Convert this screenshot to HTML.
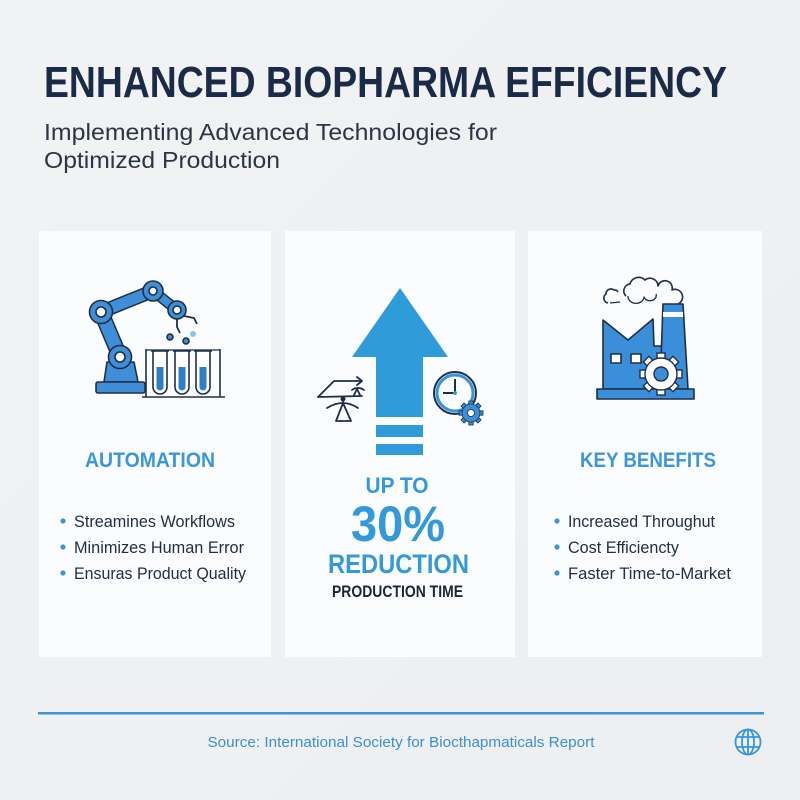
<!DOCTYPE html>
<html><head><meta charset="utf-8">
<style>
html,body{margin:0;padding:0;width:800px;height:800px;overflow:hidden;background:#eff0f2;}
svg{display:block;}
text{font-family:"Liberation Sans",sans-serif;}
</style></head>
<body>
<svg width="800" height="800" viewBox="0 0 800 800" xmlns="http://www.w3.org/2000/svg">
<defs>
<linearGradient id="bg" x1="0" y1="0" x2="1" y2="1">
<stop offset="0" stop-color="#f1f2f4"/><stop offset="1" stop-color="#eceef0"/>
</linearGradient>
<g id="gearT">
<rect x="-2.2" y="-12" width="4.4" height="24" />
</g>
</defs>
<rect width="800" height="800" fill="url(#bg)"/>

<!-- Title -->
<text x="44" y="97" font-size="44" font-weight="bold" fill="#1b2a45" textLength="683" lengthAdjust="spacingAndGlyphs">ENHANCED BIOPHARMA EFFICIENCY</text>
<text x="44" y="140" font-size="23" fill="#2b3547" textLength="453" lengthAdjust="spacingAndGlyphs">Implementing Advanced Technologies for</text>
<text x="44" y="168" font-size="23" fill="#2b3547" textLength="236" lengthAdjust="spacingAndGlyphs">Optimized Production</text>

<!-- Cards -->
<rect x="39" y="231" width="232" height="426" fill="#fbfcfd"/>
<rect x="285" y="231" width="230" height="426" fill="#fbfcfd"/>
<rect x="528" y="231" width="234" height="426" fill="#fbfcfd"/>

<!-- Card 1: robot arm -->
<g stroke="#1e2e48" stroke-width="1.6" stroke-linejoin="round">
  <!-- arm segments -->
  <line x1="101" y1="312" x2="120" y2="357" stroke="#1e2e48" stroke-width="16"/>
  <line x1="101" y1="312" x2="120" y2="357" stroke="#3f8fd8" stroke-width="13"/>
  <line x1="101" y1="312" x2="153" y2="291" stroke="#1e2e48" stroke-width="14"/>
  <line x1="101" y1="312" x2="153" y2="291" stroke="#3f8fd8" stroke-width="11"/>
  <line x1="153" y1="291" x2="177" y2="310" stroke="#1e2e48" stroke-width="11"/>
  <line x1="153" y1="291" x2="177" y2="310" stroke="#3f8fd8" stroke-width="8"/>
  <!-- pedestal -->
  <path d="M104 382 L107 362 L134 362 L138 382 Z" fill="#3f8fd8"/>
  <rect x="96" y="382" width="49" height="11" rx="2" fill="#3f8fd8"/>
  <!-- joints -->
  <circle cx="120" cy="357" r="11.5" fill="#3f8fd8"/>
  <circle cx="120" cy="357" r="5" fill="#fff"/>
  <circle cx="101" cy="312" r="11.5" fill="#3f8fd8"/>
  <circle cx="101" cy="312" r="5" fill="#fff"/>
  <circle cx="153" cy="291" r="10" fill="#3f8fd8"/>
  <circle cx="153" cy="291" r="4" fill="#fff"/>
  <circle cx="177" cy="310" r="9" fill="#3f8fd8"/>
  <circle cx="177" cy="310" r="4" fill="#fff"/>
  <!-- gripper -->
  <path d="M184 316 L194 318 L197 324" fill="none" stroke-width="1.8"/>
  <path d="M177 319 L177 327 L180 333" fill="none" stroke-width="1.8"/>
  <!-- drops -->
  <circle cx="170" cy="337" r="3" fill="#3f8fd8"/>
  <circle cx="186" cy="341" r="3" fill="#3f8fd8"/>
  <circle cx="193" cy="334" r="3" fill="#8cc6ee" stroke="none"/>
  <!-- rack -->
  <line x1="146" y1="349" x2="146" y2="397" fill="none"/>
  <line x1="220" y1="349" x2="220" y2="397" fill="none"/>
  <line x1="142" y1="397" x2="225" y2="397" fill="none"/>
  <line x1="146" y1="350" x2="220" y2="350" fill="none" stroke-width="1.2"/>
  <!-- tubes -->
  <path d="M153 351 L153 387 A7 7 0 0 0 167 387 L167 351" fill="#fff"/>
  <path d="M175 351 L175 387 A7 7 0 0 0 189 387 L189 351" fill="#fff"/>
  <path d="M196 351 L196 387 A7 7 0 0 0 210 387 L210 351" fill="#fff"/>
  <path d="M156.5 367 L156.5 387 A3.5 3.5 0 0 0 163.5 387 L163.5 367 Z" fill="#2f7fc8" stroke="none"/>
  <path d="M178.5 367 L178.5 387 A3.5 3.5 0 0 0 185.5 387 L185.5 367 Z" fill="#2f7fc8" stroke="none"/>
  <path d="M199.5 367 L199.5 387 A3.5 3.5 0 0 0 206.5 387 L206.5 367 Z" fill="#2f7fc8" stroke="none"/>
  <line x1="151" y1="351" x2="169" y2="351"/>
  <line x1="173" y1="351" x2="191" y2="351"/>
  <line x1="194" y1="351" x2="212" y2="351"/>
</g>

<text x="150" y="467" font-size="21" font-weight="bold" fill="#3b97da" text-anchor="middle" textLength="130" lengthAdjust="spacingAndGlyphs">AUTOMATION</text>
<g fill="#3a95d8">
<circle cx="63" cy="521" r="2.6"/><circle cx="63" cy="547" r="2.6"/><circle cx="63" cy="573" r="2.6"/>
</g>
<g font-size="16.5" fill="#1f2d45">
<text x="74" y="527" textLength="161" lengthAdjust="spacingAndGlyphs">Streamines Workflows</text>
<text x="74" y="553" textLength="170" lengthAdjust="spacingAndGlyphs">Minimizes Human Error</text>
<text x="74" y="579" textLength="172" lengthAdjust="spacingAndGlyphs">Ensuras Product Quality</text>
</g>

<!-- Card 2: arrow -->
<g fill="#2f9bd9">
<polygon points="400,288 448,357 423,357 423,417 376,417 376,357 352,357"/>
<rect x="376" y="425" width="47" height="12"/>
<rect x="376" y="444" width="47" height="11"/>
</g>
<!-- left icon -->
<g fill="none" stroke="#1e2e48" stroke-width="1.8" stroke-linejoin="round" stroke-linecap="round">
  <path d="M318 397 L334 381 L361 381"/>
  <path d="M357 377 L362 381 L357 385"/>
  <line x1="318" y1="397" x2="362" y2="396"/>
  <path d="M354 395 L357 389 L360 395" />
  <path d="M352 390 A8 6 0 0 1 364 390"/>
  <path d="M327 408 Q343 398 358 408"/>
  <line x1="343" y1="398" x2="343" y2="405"/>
  <path d="M343 403 L336 421 L351 421 Z"/>
</g>
<circle cx="343" cy="399" r="2.5" fill="#1e2e48"/>
<!-- clock -->
<circle cx="455" cy="393" r="21" fill="none" stroke="#1e2e48" stroke-width="2"/>
<circle cx="455" cy="393" r="18" fill="none" stroke="#3a95d8" stroke-width="3"/>
<path d="M455 379 L455 393 L443 393" fill="none" stroke="#1e2e48" stroke-width="2"/>
<circle cx="455" cy="393" r="2" fill="#3a95d8"/>
<g transform="translate(471,413)" fill="#3a8fd6" stroke="#1e2e48" stroke-width="0.8">
  <g><use href="#gearT"/><use href="#gearT" transform="rotate(45)"/><use href="#gearT" transform="rotate(90)"/><use href="#gearT" transform="rotate(135)"/></g>
  <circle r="9"/>
  <circle r="3.5" fill="#fff"/>
</g>

<text x="397" y="493" font-size="22" font-weight="bold" fill="#3499da" text-anchor="middle" textLength="63" lengthAdjust="spacingAndGlyphs">UP TO</text>
<text x="398" y="541" font-size="50" font-weight="bold" fill="#3499da" text-anchor="middle" textLength="94" lengthAdjust="spacingAndGlyphs">30%</text>
<text x="398.5" y="573" font-size="27" font-weight="bold" fill="#3499da" text-anchor="middle" textLength="141" lengthAdjust="spacingAndGlyphs">REDUCTION</text>
<text x="397.5" y="597" font-size="17" font-weight="bold" fill="#1b2638" text-anchor="middle" textLength="131" lengthAdjust="spacingAndGlyphs">PRODUCTION TIME</text>

<!-- Card 3: factory -->
<g stroke="#1e2e48" stroke-width="1.6" stroke-linejoin="round">
  <!-- smoke -->
  <path d="M608 303 A5 5 0 0 1 606 294 A5 5 0 0 1 614 290 A4 4 0 0 1 618 292" fill="none"/>
  <path d="M610 303 L620 302" fill="none" stroke-width="1.2"/>
  <path d="M626 296 A7 7 0 0 1 630 284 A9 9 0 0 1 645 280 A8 8 0 0 1 658 286 A7 7 0 0 1 672 290 A6 6 0 0 1 678 304" fill="none"/>
  <path d="M628 296 A7 6 0 0 0 644 297 A6 5 0 0 0 656 294" fill="none" stroke-width="1.3"/>
  <!-- building -->
  <polygon points="603,389 603,320 628,340 653,319 654,346 662,346 662,389" fill="#3a8fd8"/>
  <polygon points="663,304 683,304 688,389 660,389" fill="#3a8fd8"/>
  <rect x="663" y="312" width="20" height="5" fill="#fff" stroke="none"/>
  <rect x="611" y="354" width="10" height="9" fill="#fff"/>
  <rect x="631" y="354" width="10" height="9" fill="#fff"/>
  <rect x="597" y="389" width="97" height="10" fill="#3a8fd8"/>
</g>
<g transform="translate(661,374)" stroke="#1e2e48" stroke-width="1.4">
  <g fill="#fff">
    <rect x="-4" y="-21" width="8" height="42"/>
    <rect x="-4" y="-21" width="8" height="42" transform="rotate(45)"/>
    <rect x="-4" y="-21" width="8" height="42" transform="rotate(90)"/>
    <rect x="-4" y="-21" width="8" height="42" transform="rotate(135)"/>
  </g>
  <circle r="16" fill="#fff"/>
  <circle r="7" fill="#3a8fd8"/>
</g>

<text x="648" y="467" font-size="21" font-weight="bold" fill="#3b97da" text-anchor="middle" textLength="136" lengthAdjust="spacingAndGlyphs">KEY BENEFITS</text>
<g fill="#3a95d8">
<circle cx="557" cy="521" r="2.6"/><circle cx="557" cy="547" r="2.6"/><circle cx="557" cy="573" r="2.6"/>
</g>
<g font-size="16.5" fill="#1f2d45">
<text x="568" y="527" textLength="147" lengthAdjust="spacingAndGlyphs">Increased Throughut</text>
<text x="568" y="553" textLength="111" lengthAdjust="spacingAndGlyphs">Cost Efficiencty</text>
<text x="568" y="579" textLength="163" lengthAdjust="spacingAndGlyphs">Faster Time-to-Market</text>
</g>

<!-- Footer -->
<rect x="38" y="712" width="726" height="2.5" fill="#3a94d6"/>
<text x="401" y="747" font-size="15" fill="#3b8fd0" text-anchor="middle" textLength="387" lengthAdjust="spacingAndGlyphs">Source: International Society for Biocthapmaticals Report</text>
<g fill="none" stroke="#3a95d8" stroke-width="1.8">
  <circle cx="748" cy="742" r="12.5"/>
  <ellipse cx="748" cy="742" rx="6" ry="12.5"/>
  <line x1="748" y1="729.5" x2="748" y2="754.5"/>
  <line x1="736" y1="737" x2="760" y2="737"/>
  <line x1="736" y1="747" x2="760" y2="747"/>
</g>
</svg>
</body></html>
